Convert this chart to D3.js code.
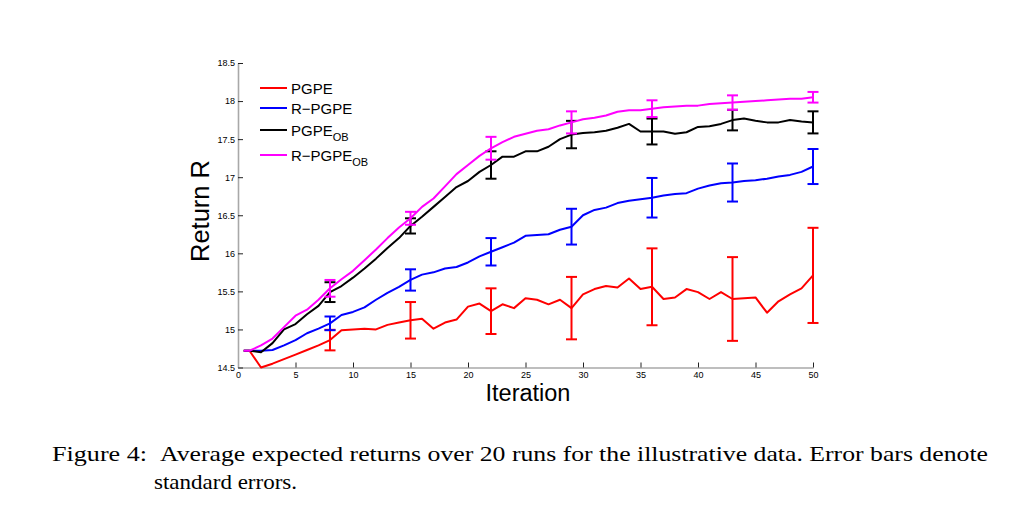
<!DOCTYPE html>
<meta charset="utf-8">
<script src="https://d3js.org/d3.v7.min.js"></script>
<style>
  body { margin: 0; background: #fff; }
</style>
<div id="my_dataviz"></div>
<script>
// data
var iterations = [0.5].concat(d3.range(1, 51));
var pgpe = [14.72, 14.72, 14.50, 14.55, 14.61, 14.67, 14.73, 14.79, 14.86, 14.99, 15.00, 15.01, 15.00, 15.06, 15.09, 15.12, 15.14, 15.01, 15.09, 15.13, 15.30, 15.34, 15.24, 15.33, 15.28, 15.41, 15.39, 15.33, 15.39, 15.28, 15.46, 15.53, 15.57, 15.55, 15.67, 15.53, 15.56, 15.40, 15.42, 15.53, 15.49, 15.40, 15.49, 15.40, 15.41, 15.42, 15.22, 15.37, 15.46, 15.54, 15.71];
var rpgpe = [14.72, 14.72, 14.72, 14.73, 14.79, 14.86, 14.95, 15.01, 15.08, 15.19, 15.23, 15.29, 15.39, 15.48, 15.56, 15.65, 15.72, 15.75, 15.80, 15.82, 15.88, 15.96, 16.02, 16.08, 16.14, 16.23, 16.24, 16.25, 16.31, 16.35, 16.50, 16.57, 16.60, 16.66, 16.69, 16.71, 16.73, 16.76, 16.78, 16.79, 16.85, 16.89, 16.92, 16.93, 16.95, 16.96, 16.98, 17.01, 17.03, 17.07, 17.14];
var pgpeOB = [14.72, 14.72, 14.70, 14.82, 15.00, 15.07, 15.20, 15.31, 15.49, 15.57, 15.68, 15.80, 15.93, 16.07, 16.20, 16.36, 16.48, 16.61, 16.74, 16.87, 16.95, 17.07, 17.16, 17.27, 17.27, 17.34, 17.34, 17.40, 17.50, 17.56, 17.58, 17.59, 17.61, 17.65, 17.70, 17.60, 17.60, 17.60, 17.57, 17.59, 17.66, 17.67, 17.70, 17.75, 17.77, 17.74, 17.72, 17.72, 17.75, 17.73, 17.72];
var rpgpeOB = [14.72, 14.72, 14.79, 14.88, 15.03, 15.18, 15.26, 15.39, 15.54, 15.66, 15.77, 15.91, 16.05, 16.20, 16.34, 16.46, 16.61, 16.72, 16.88, 17.04, 17.16, 17.28, 17.38, 17.46, 17.53, 17.57, 17.61, 17.63, 17.68, 17.72, 17.76, 17.78, 17.81, 17.86, 17.88, 17.88, 17.90, 17.92, 17.93, 17.94, 17.94, 17.96, 17.97, 17.98, 17.99, 18.00, 18.01, 18.02, 18.03, 18.03, 18.05];

// error bars (half-length) at these iterations
var errIterations = [8, 15, 22, 29, 36, 43, 50];
var pgpeErr = [0.135, 0.24, 0.30, 0.41, 0.505, 0.55, 0.625];
var rpgpeErr = [0.09, 0.14, 0.18, 0.235, 0.26, 0.25, 0.23];
var pgpeOBErr = [0.13, 0.10, 0.18, 0.18, 0.17, 0.135, 0.145];
var rpgpeOBErr = [0.11, 0.085, 0.15, 0.145, 0.11, 0.095, 0.07];

var xTicks = [0, 5, 10, 15, 20, 25, 30, 35, 40, 45, 50];
var yTicks = [14.5, 15, 15.5, 16, 16.5, 17, 17.5, 18, 18.5];

var series = [
  { name: "PGPE", sub: "", values: pgpe, err: pgpeErr, color: "#ff0000" },
  { name: "R\u2212PGPE", sub: "", values: rpgpe, err: rpgpeErr, color: "#0000ff" },
  { name: "PGPE", sub: "OB", values: pgpeOB, err: pgpeOBErr, color: "#000000" },
  { name: "R\u2212PGPE", sub: "OB", values: rpgpeOB, err: rpgpeOBErr, color: "#ff00ff" }
];

var margin = {top: 63, left: 238},
    width = 575,
    height = 304.5;

var svg = d3.select("#my_dataviz")
  .append("svg")
    .attr("width", 1019)
    .attr("height", 525);

var g = svg.append("g")
    .attr("transform", "translate(" + margin.left + "," + margin.top + ")");

var x = d3.scaleLinear().domain([0, 50]).range([0, width]);
var y = d3.scaleLinear().domain([14.5, 18.5]).range([height, 0]);

// axes, ticks pointing inward
var xAxis = g.append("g")
  .attr("transform", "translate(0," + height + ")")
  .call(d3.axisBottom(x).tickValues(xTicks).tickSize(-5).tickSizeOuter(0).tickPadding(4).tickFormat(d3.format("")));
var yAxis = g.append("g")
  .call(d3.axisLeft(y).tickValues(yTicks).tickSize(-5).tickSizeOuter(0).tickPadding(3).tickFormat(d3.format("")));

[xAxis, yAxis].forEach(function(a) {
  a.select(".domain").attr("stroke", "#a8a8a8").attr("stroke-width", 1.6);
  a.selectAll(".tick line").attr("stroke", "#222").attr("stroke-width", 1);
  a.selectAll(".tick text")
    .attr("font-family", "Liberation Sans, Arial, sans-serif")
    .attr("font-size", 9)
    .attr("fill", "#000");
});

var line = d3.line()
  .x(function(d, i) { return x(iterations[i]); })
  .y(function(d) { return y(d); });

series.forEach(function(s) {
  g.append("path")
    .datum(s.values)
    .attr("fill", "none")
    .attr("stroke", s.color)
    .attr("stroke-width", 2)
    .attr("stroke-linejoin", "round")
    .attr("d", line);

  var bars = g.append("g")
    .selectAll("g")
    .data(errIterations)
    .enter()
    .append("g")
    .attr("stroke", s.color)
    .attr("stroke-width", 2);
  bars.each(function(it, j) {
    var v = s.values[iterations.indexOf(it)];
    var cx = x(it), top = y(v + s.err[j]), bot = y(v - s.err[j]);
    var b = d3.select(this);
    b.append("line").attr("x1", cx).attr("x2", cx).attr("y1", top).attr("y2", bot);
    b.append("line").attr("x1", cx - 5.5).attr("x2", cx + 5.5).attr("y1", top).attr("y2", top);
    b.append("line").attr("x1", cx - 5.5).attr("x2", cx + 5.5).attr("y1", bot).attr("y2", bot);
  });
});

// legend
var legendY = [88, 108, 130, 155];
var legend = svg.append("g");
series.forEach(function(s, i) {
  legend.append("line")
    .attr("x1", 260).attr("x2", 287)
    .attr("y1", legendY[i]).attr("y2", legendY[i])
    .attr("stroke", s.color).attr("stroke-width", 2);
  var t = legend.append("text")
    .attr("x", 291).attr("y", legendY[i] + 5.5)
    .attr("font-family", "Liberation Sans, Arial, sans-serif")
    .attr("font-size", 15)
    .text(s.name);
  if (s.sub) {
    t.append("tspan")
      .attr("dy", 5).attr("font-size", 11)
      .text(s.sub);
  }
});

// axis labels
svg.append("text")
  .attr("x", 528).attr("y", 401)
  .attr("text-anchor", "middle")
  .attr("font-family", "Liberation Sans, Arial, sans-serif")
  .attr("font-size", 23.5)
  .text("Iteration");

svg.append("text")
  .attr("transform", "translate(209,211) rotate(-90)")
  .attr("text-anchor", "middle")
  .attr("font-family", "Liberation Sans, Arial, sans-serif")
  .attr("font-size", 25.5)
  .text("Return R");

// caption
var cap = svg.append("g")
  .attr("font-family", "Liberation Serif, Times New Roman, serif")
  .attr("font-size", 22)
  .attr("fill", "#000");
cap.append("text").attr("x", 52).attr("y", 461)
  .attr("textLength", 95).attr("lengthAdjust", "spacingAndGlyphs")
  .text("Figure 4:");
cap.append("text").attr("x", 160).attr("y", 461)
  .attr("textLength", 828).attr("lengthAdjust", "spacingAndGlyphs")
  .text("Average expected returns over 20 runs for the illustrative data.  Error bars denote");
cap.append("text").attr("x", 154).attr("y", 489)
  .attr("textLength", 143).attr("lengthAdjust", "spacingAndGlyphs")
  .text("standard errors.");
</script>
